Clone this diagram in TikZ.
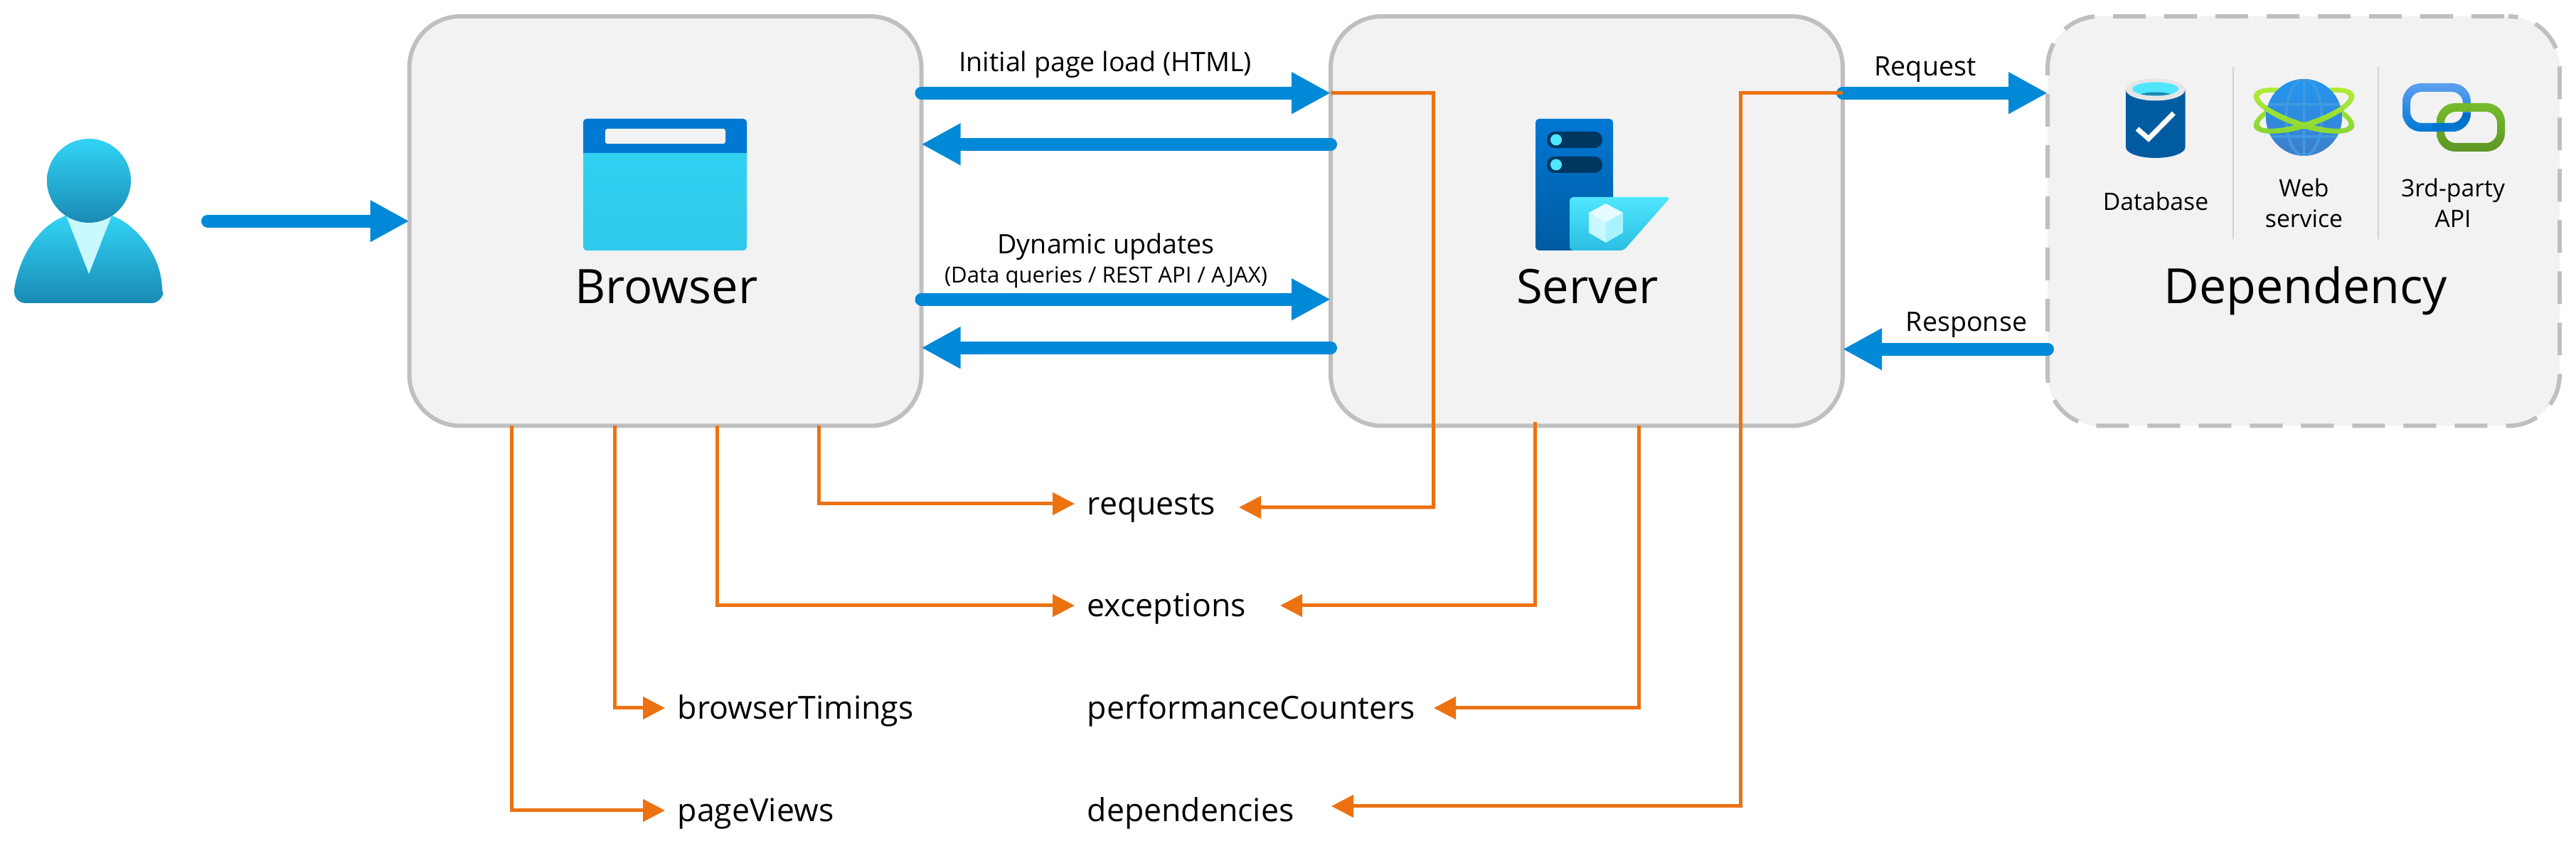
\documentclass[tikz,border=0pt]{standalone}
\usepackage{fontspec}
\setmainfont{Open Sans}
\usetikzlibrary{arrows.meta}
\definecolor{boxfill}{HTML}{F2F2F2}
\definecolor{boxline}{HTML}{BFBFBF}
\definecolor{flowblue}{HTML}{0089D6}
\definecolor{telemorange}{HTML}{EC7211}
\definecolor{azureblue}{HTML}{0078D4}
\definecolor{azuredark}{HTML}{005BA1}
\definecolor{azurecyan}{HTML}{32D4F5}
\definecolor{azureteal}{HTML}{198AB3}
\definecolor{azurelight}{HTML}{50E6FF}
\definecolor{orbittop}{HTML}{B4EC36}
\definecolor{orbitlow}{HTML}{86D633}
\definecolor{globetop}{HTML}{2196F3}
\definecolor{globelow}{HTML}{3F7EC9}
\definecolor{linkblue}{HTML}{5EA0EF}
\definecolor{linkgreen}{HTML}{76BC2D}
\definecolor{linkolive}{HTML}{5E9624}
\tikzset{
    tierbox/.style={draw=boxline, fill=boxfill, line width=0.06cm, rounded corners=0.72cm, minimum width=7.2cm, minimum height=5.755cm, outer sep=0},
    bluearrow/.style={draw=flowblue, line width=0.18cm, line cap=round, -{Triangle[length=0.55cm, width=0.55cm]}},
    orangearrow/.style={draw=telemorange, line width=0.05cm, -{Triangle[length=0.31cm, width=0.31cm]}},
    tiername/.style={anchor=base, inner sep=0, font=\fontsize{19}{19}\selectfont},
    flowname/.style={anchor=base, inner sep=0, font=\fontsize{10.7}{10.7}\selectfont},
    depname/.style={anchor=center, align=center, inner sep=0, font=\fontsize{9.6}{12.2}\selectfont},
    tablename/.style={anchor=west, inner sep=0, text height=0.39cm, text depth=0.07cm, font=\fontsize{12.7}{12.7}\selectfont},
    divider/.style={draw=boxline!70, line width=0.02cm},
    orbit/.style={even odd rule, top color=orbittop, bottom color=orbitlow}
}
\begin{document}
\begin{tikzpicture}
    \useasboundingbox (0,0) rectangle (36.22,12.10);
    \node[tierbox] (browser) at (9.355,8.9925) {};
    \node[tierbox] (server) at (22.31,8.9925) {};
    \node[tierbox, dash pattern=on 0.46cm off 0.26cm, dash phase=0.66cm] (dependency) at (32.39,8.9925) {};

    \coordinate (useredge) at (2.92,8.9925);
    \draw[bluearrow] (useredge) -- (browser.west);
    \foreach \dy in {1.8,-1.1} \draw[bluearrow] ([yshift=\dy cm]browser.east) -- ([yshift=\dy cm]server.west);
    \foreach \dy in {1.08,-1.78} \draw[bluearrow] ([yshift=\dy cm]server.west) -- ([yshift=\dy cm]browser.east);
    \draw[bluearrow] ([yshift=1.8cm]server.east) -- ([yshift=1.8cm]dependency.west);
    \draw[bluearrow] ([yshift=-1.8cm]dependency.west) -- ([yshift=-1.8cm]server.east);

    \node[tiername] (browsername) at (9.37,7.83) {Browser};
    \node[tiername] (servername) at (22.32,7.83) {Server};
    \node[tiername, font=\fontsize{19.4}{19.4}\selectfont] (dependencyname) at (32.42,7.83) {Dependency};
    \node[flowname] (pageload) at (15.54,11.09) {Initial page load (HTML)};
    \node[flowname] (dynupdates) at (15.55,8.53) {Dynamic updates};
    \node[flowname, font=\fontsize{8.85}{8.85}\selectfont] (dataqueries) at (15.55,8.12) {(Data queries / REST API / AJAX)};
    \node[flowname] (requestname) at (27.07,11.03) {Request};
    \node[flowname] (responsename) at (27.65,7.44) {Response};
    \node[depname] (database) at (30.31,9.27) {Database};
    \node[depname] (webservice) at (32.395,9.25) {Web\\service};
    \node[depname] (thirdparty) at (34.49,9.25) {3rd-party\\API};
    \draw[divider] (31.395,11.16) -- (31.395,8.74);
    \draw[divider] (33.44,11.16) -- (33.44,8.74);

    \node[tablename] (requests) at (15.28,5.02) {requests};
    \node[tablename] (exceptions) at (15.28,3.59) {exceptions};
    \node[tablename] (performanceCounters) at (15.28,2.15) {performanceCounters};
    \node[tablename] (dependencies) at (15.28,0.71) {dependencies};
    \node[tablename] (browserTimings) at (9.52,2.15) {browserTimings};
    \node[tablename] (pageViews) at (9.52,0.71) {pageViews};

    \draw[orangearrow] ([xshift=2.155cm]browser.south) |- ([xshift=-0.17cm]requests.west);
    \draw[orangearrow] ([xshift=0.725cm]browser.south) |- ([xshift=-0.17cm]exceptions.west);
    \draw[orangearrow] ([xshift=-0.715cm]browser.south) |- ([xshift=-0.17cm]browserTimings.west);
    \draw[orangearrow] ([xshift=-2.16cm]browser.south) |- ([xshift=-0.17cm]pageViews.west);
    \coordinate (reqturn) at (20.155,4.97);
    \coordinate (depturn) at (24.47,0.77);
    \draw[orangearrow] ([yshift=1.8cm]server.west) -| (reqturn) -- ([xshift=2.14cm,yshift=-0.05cm]requests.west);
    \draw[orangearrow] ([xshift=-0.73cm,yshift=0.05cm]server.south) |- ([xshift=2.72cm]exceptions.west);
    \draw[orangearrow] ([xshift=0.73cm]server.south) |- ([xshift=4.88cm]performanceCounters.west);
    \draw[orangearrow] ([yshift=1.8cm]server.east) -| (depturn) -- ([xshift=3.44cm,yshift=0.06cm]dependencies.west);

    \shade[top color=azurecyan, bottom color=azureteal] (0.93,9.07) .. controls (0.58,8.95) and (0.28,8.55) .. (0.20,8.03) {[rounded corners=0.16cm] -- (0.20,7.84) -- (2.29,7.84) -- (2.29,8.03)} .. controls (2.21,8.55) and (1.91,8.95) .. (1.57,9.07) -- cycle;
    \fill[azurelight!30] (0.93,9.07) -- (1.57,9.07) -- (1.25,8.25) -- cycle;
    \shade[top color=azurecyan, bottom color=azureteal] (1.25,9.56) circle (0.59);

    \shade[top color=azurecyan, middle color=azurecyan, bottom color=azurecyan!85!azureteal, rounded corners=0.05cm] (8.20,8.58) rectangle (10.50,10.43);
    \fill[azureblue] (8.20,9.95) {[rounded corners=0.05cm] -- (8.20,10.43) -- (10.50,10.43)} -- (10.50,9.95) -- cycle;
    \fill[boxfill, rounded corners=0.03cm] (8.51,10.08) rectangle (10.20,10.29);

    \shade[top color=azureblue, bottom color=azuredark, rounded corners=0.05cm] (21.59,8.58) rectangle (22.68,10.43);
    \foreach \y in {10.135,9.785} {
        \fill[azuredark!60!black, rounded corners=0.11cm] (21.75,\y-0.115) rectangle (22.53,\y+0.115);
        \fill[azurelight] (21.88,\y) circle (0.08);
    }
    \shade[top color=azurelight, bottom color=azurecyan!70!azureteal, rounded corners=0.05cm] (22.07,8.58) -- (22.07,9.33) -- (23.49,9.33) -- (22.83,8.58) -- cycle;
    \fill[azurelight!15!white] (22.58,9.24) -- (22.82,9.11) -- (22.58,8.97) -- (22.34,9.11) -- cycle;
    \fill[azurelight!30!white] (22.34,9.11) -- (22.58,8.97) -- (22.58,8.69) -- (22.34,8.83) -- cycle;
    \fill[azurelight!50!white] (22.82,9.11) -- (22.58,8.97) -- (22.58,8.69) -- (22.82,8.83) -- cycle;

    \shade[left color=azuredark, middle color=azureblue, right color=azuredark] (29.89,10.84) -- (29.89,10.03) arc[start angle=180, end angle=360, x radius=0.4175, y radius=0.15] -- (30.725,10.84) -- cycle;
    \fill[black!10] (30.3075,10.84) ellipse[x radius=0.4175, y radius=0.155];
    \begin{scope}
        \clip (30.3075,10.85) ellipse[x radius=0.325, y radius=0.095];
        \fill[azurelight] (29.9,10.6) rectangle (30.7,11);
        \fill[azureteal] (30.3075,10.74) ellipse[x radius=0.26, y radius=0.065];
    \end{scope}
    \draw[white, line width=0.07cm] (30.05,10.29) -- (30.21,10.15) -- (30.564,10.51);

    \coordinate (orbitc) at (32.395,10.545);
    \foreach \a in {18,-18} \shade[orbit, rotate around={\a:(orbitc)}] (orbitc) ellipse[x radius=0.74, y radius=0.24] (orbitc) ellipse[x radius=0.66, y radius=0.16];
    \shade[top color=globetop, bottom color=globelow] (32.395,10.45) ellipse[x radius=0.535, y radius=0.54];
    \begin{scope}
        \clip (32.395,10.45) ellipse[x radius=0.535, y radius=0.54];
        \draw[white!25!azureblue, line width=0.035cm] (32.395,11) -- (32.395,9.9) (31.8,10.63) -- (33,10.63) (31.8,10.18) -- (33,10.18) (32.395,10.45) ellipse[x radius=0.25, y radius=0.54];
    \end{scope}
    \foreach \a in {18,-18} {
        \begin{scope}
            \clip[rotate around={\a:(orbitc)}] (31.395,10.545) rectangle (33.395,10.045);
            \shade[orbit, rotate around={\a:(orbitc)}] (orbitc) ellipse[x radius=0.74, y radius=0.24] (orbitc) ellipse[x radius=0.66, y radius=0.16];
        \end{scope}
    }

    \shade[even odd rule, top color=linkblue, bottom color=azureblue, rounded corners=0.26cm] (33.78,10.25) rectangle (34.74,10.93) {[rounded corners=0.16cm] (33.89,10.37) rectangle (34.63,10.81)};
    \shade[even odd rule, top color=linkgreen, bottom color=linkolive, rounded corners=0.26cm] (34.26,9.97) rectangle (35.22,10.65) {[rounded corners=0.16cm] (34.37,10.09) rectangle (35.11,10.53)};
    \begin{scope}
        \clip (34.20,10.20) rectangle (34.80,10.50);
        \shade[even odd rule, top color=azuredark, bottom color=azureblue, rounded corners=0.26cm] (33.78,10.25) rectangle (34.74,10.93) {[rounded corners=0.16cm] (33.89,10.37) rectangle (34.63,10.81)};
    \end{scope}
\end{tikzpicture}
\end{document}
